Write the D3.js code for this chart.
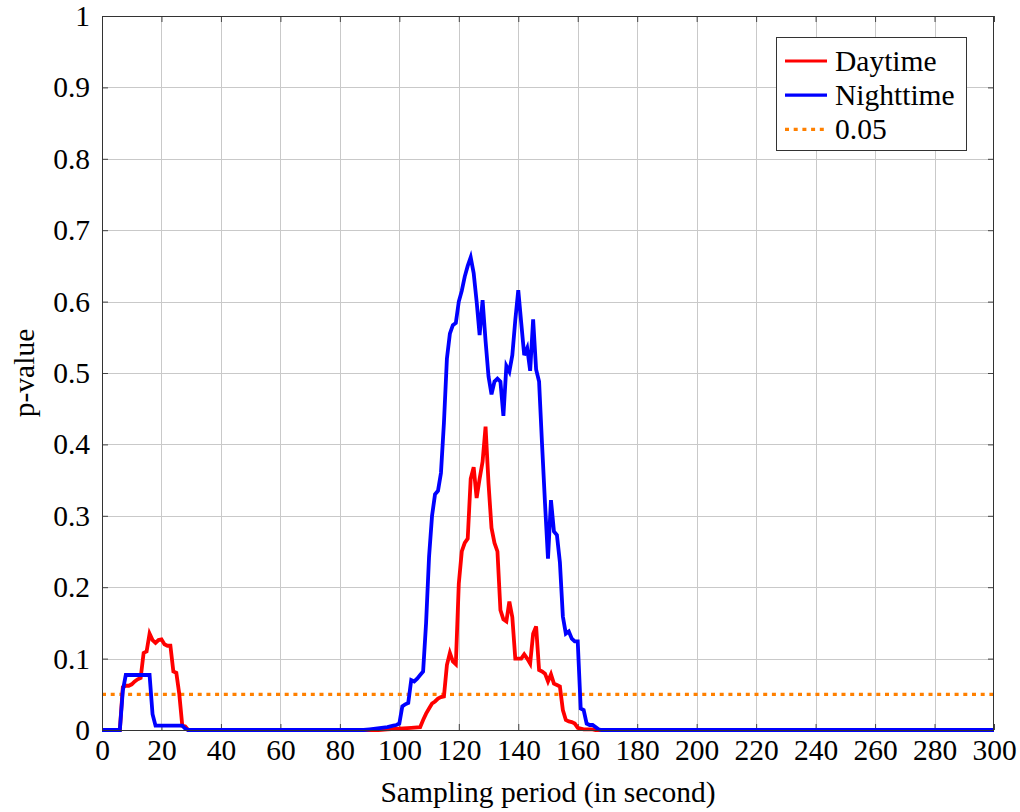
<!DOCTYPE html>
<html>
<head>
<meta charset="utf-8">
<script src="https://cdn.jsdelivr.net/npm/d3@7/dist/d3.min.js"></script>
<style>
  html, body { margin: 0; padding: 0; background: #fff; }
  svg { display: block; font-family: "Liberation Serif", "Times New Roman", serif; }
</style>
</head>
<body>
<svg id="chart" width="1020" height="812"></svg>
<script>
// p-value of the test as a function of the sampling period (seconds)
const dayT = [0, 6, 7, 8, 9, 10, 11, 12, 13, 14, 15, 16, 17, 18, 19, 20, 21, 22, 23, 24, 25, 26, 27, 28, 29,
  93, 96, 100, 104, 107, 108, 109, 110, 111, 112, 113, 114, 115, 116, 117, 118, 119, 120, 121, 122, 123, 124,
  125, 126, 127, 128, 129, 130, 131, 132, 133, 134, 135, 136, 137, 138, 139, 140, 141, 142, 143, 144, 145,
  146, 147, 148, 149, 150, 151, 152, 153, 154, 155, 156, 157, 158, 159, 160, 161, 162, 165, 166, 300];
const dayP = [0, 0, 0.060, 0.062, 0.062, 0.064, 0.068, 0.071, 0.073, 0.108, 0.110, 0.135, 0.126, 0.122, 0.126,
  0.127, 0.120, 0.118, 0.118, 0.082, 0.080, 0.050, 0.006, 0.005, 0,
  0, 0.001, 0.002, 0.003, 0.004, 0.014, 0.023, 0.030, 0.037, 0.040, 0.044, 0.046, 0.047, 0.091, 0.108, 0.096,
  0.092, 0.205, 0.250, 0.262, 0.268, 0.352, 0.368, 0.325, 0.352, 0.376, 0.425, 0.345, 0.283, 0.262, 0.250,
  0.168, 0.155, 0.152, 0.180, 0.158, 0.100, 0.100, 0.100, 0.106, 0.100, 0.093, 0.135, 0.145, 0.084, 0.082,
  0.079, 0.068, 0.078, 0.065, 0.063, 0.061, 0.028, 0.014, 0.012, 0.011, 0.009, 0.003, 0.002, 0.001, 0.001,
  0, 0];

const nightT = [0, 6, 7, 8, 16, 17, 18, 27, 28, 29,
  88, 90, 92, 94, 96, 98, 99, 100, 101, 102, 103, 104, 105, 106, 107, 108, 109, 110, 111, 112, 113, 114, 115,
  116, 117, 118, 119, 120, 121, 122, 123, 124, 125, 126, 127, 128, 129, 130, 131, 132, 133, 134, 135, 136,
  137, 138, 139, 140, 141, 142, 143, 144, 145, 146, 147, 148, 149, 150, 151, 152, 153, 154, 155, 156, 157,
  158, 159, 160, 161, 162, 163, 164, 165, 166, 167, 168, 300];
const nightP = [0, 0, 0.055, 0.077, 0.077, 0.022, 0.006, 0.006, 0.002, 0,
  0, 0.001, 0.002, 0.003, 0.004, 0.006, 0.007, 0.009, 0.033, 0.036, 0.038, 0.070, 0.068, 0.072, 0.077, 0.082,
  0.150, 0.243, 0.300, 0.330, 0.335, 0.360, 0.430, 0.520, 0.555, 0.567, 0.570, 0.600, 0.615, 0.635, 0.650,
  0.662, 0.640, 0.600, 0.553, 0.602, 0.545, 0.495, 0.470, 0.488, 0.492, 0.488, 0.440, 0.510, 0.502, 0.525,
  0.574, 0.616, 0.570, 0.525, 0.535, 0.503, 0.575, 0.505, 0.488, 0.400, 0.317, 0.240, 0.322, 0.278, 0.273,
  0.235, 0.159, 0.135, 0.138, 0.128, 0.124, 0.124, 0.030, 0.028, 0.009, 0.007, 0.007, 0.004, 0.001, 0, 0];

const threshold = 0.05;
const xTicks = d3.range(0, 301, 20);
const yTicks = [0, 0.1, 0.2, 0.3, 0.4, 0.5, 0.6, 0.7, 0.8, 0.9, 1];
const yTickLabels = ["0", "0.1", "0.2", "0.3", "0.4", "0.5", "0.6", "0.7", "0.8", "0.9", "1"];
const seriesNames = ["Daytime", "Nighttime", "0.05"];
const seriesColors = ["#ff0000", "#0000ff", "#ff8000"];

const svg = d3.select("#chart");
const plot = { left: 102, top: 16, right: 994, bottom: 730 };

const x = d3.scaleLinear().domain([0, 300]).range([plot.left, plot.right]);
const y = d3.scaleLinear().domain([0, 1]).range([plot.bottom, plot.top]);

const fontSize = 29.5;

// grid
const grid = svg.append("g").attr("stroke", "#c9c9c9").attr("stroke-width", 1);
grid.selectAll("line.vx").data(xTicks.slice(1, -1)).join("line")
  .attr("x1", d => Math.round(x(d)) + 0.5).attr("x2", d => Math.round(x(d)) + 0.5)
  .attr("y1", plot.top).attr("y2", plot.bottom);
grid.selectAll("line.hy").data(yTicks.slice(1, -1)).join("line")
  .attr("y1", d => Math.round(y(d)) + 0.5).attr("y2", d => Math.round(y(d)) + 0.5)
  .attr("x1", plot.left).attr("x2", plot.right);

// axes with inward ticks on all four sides
const tickLen = 6;
const xAxisB = d3.axisBottom(x).tickValues(xTicks).tickSize(-tickLen).tickPadding(9).tickFormat(d3.format("d"));
const xAxisT = d3.axisTop(x).tickValues(xTicks).tickSize(-tickLen).tickFormat("");
const yAxisL = d3.axisLeft(y).tickValues(yTicks).tickSize(-tickLen).tickPadding(12)
  .tickFormat((d, i) => yTickLabels[i]);
const yAxisR = d3.axisRight(y).tickValues(yTicks).tickSize(-tickLen).tickFormat("");

function styleAxis(g) {
  g.select(".domain").remove();
  g.selectAll(".tick line").attr("stroke", "#444").attr("stroke-width", 1);
  g.selectAll(".tick text").attr("fill", "#000").style("font-size", fontSize + "px")
    .style("font-family", '"Liberation Serif", "Times New Roman", serif');
}

svg.append("g").attr("transform", `translate(0,${plot.bottom})`).call(xAxisB).call(styleAxis);
svg.append("g").attr("transform", `translate(0,${plot.top})`).call(xAxisT).call(styleAxis);
svg.append("g").attr("transform", `translate(${plot.left},0)`).call(yAxisL).call(styleAxis);
svg.append("g").attr("transform", `translate(${plot.right},0)`).call(yAxisR).call(styleAxis);

// threshold line
svg.append("line")
  .attr("x1", x(0)).attr("x2", x(300))
  .attr("y1", y(threshold)).attr("y2", y(threshold))
  .attr("stroke", seriesColors[2]).attr("stroke-width", 3.2)
  .attr("stroke-dasharray", "4,4.7");

// series lines
const line = d3.line().x(d => x(d[0])).y(d => y(d[1]));
const daySeries = dayT.map((t, i) => [t, dayP[i]]);
const nightSeries = nightT.map((t, i) => [t, nightP[i]]);

svg.append("path").datum(daySeries).attr("d", line)
  .attr("fill", "none").attr("stroke", seriesColors[0]).attr("stroke-width", 3.8)
  .attr("stroke-linejoin", "miter").attr("stroke-miterlimit", 4);
svg.append("path").datum(nightSeries).attr("d", line)
  .attr("fill", "none").attr("stroke", seriesColors[1]).attr("stroke-width", 3.8)
  .attr("stroke-linejoin", "miter").attr("stroke-miterlimit", 4);

// frame
svg.append("rect")
  .attr("x", plot.left + 0.5).attr("y", plot.top + 0.5)
  .attr("width", plot.right - plot.left - 1).attr("height", plot.bottom - plot.top)
  .attr("fill", "none").attr("stroke", "#333").attr("stroke-width", 1);

// axis titles
svg.append("text")
  .attr("x", (plot.left + plot.right) / 2).attr("y", 802)
  .attr("text-anchor", "middle").style("font-size", fontSize + "px")
  .text("Sampling period (in second)");
svg.append("text")
  .attr("transform", `translate(34,${(plot.top + plot.bottom) / 2}) rotate(-90)`)
  .attr("text-anchor", "middle").style("font-size", fontSize + "px")
  .text("p-value");

// legend
const lg = svg.append("g").attr("transform", "translate(776,37)");
lg.append("rect").attr("x", 0.5).attr("y", 0.5).attr("width", 190).attr("height", 113)
  .attr("fill", "#fff").attr("stroke", "#333").attr("stroke-width", 1);
const rows = lg.selectAll("g.row").data(seriesNames).join("g")
  .attr("transform", (d, i) => `translate(0,${24 + i * 34.2})`);
rows.append("line")
  .attr("x1", 9).attr("x2", 51).attr("y1", 0).attr("y2", 0)
  .attr("stroke", (d, i) => seriesColors[i]).attr("stroke-width", 3.2)
  .attr("stroke-dasharray", (d, i) => i === 2 ? "4,4.7" : null);
rows.append("text")
  .attr("x", 59).attr("y", 10)
  .style("font-size", fontSize + "px")
  .text(d => d);
</script>
</body>
</html>
